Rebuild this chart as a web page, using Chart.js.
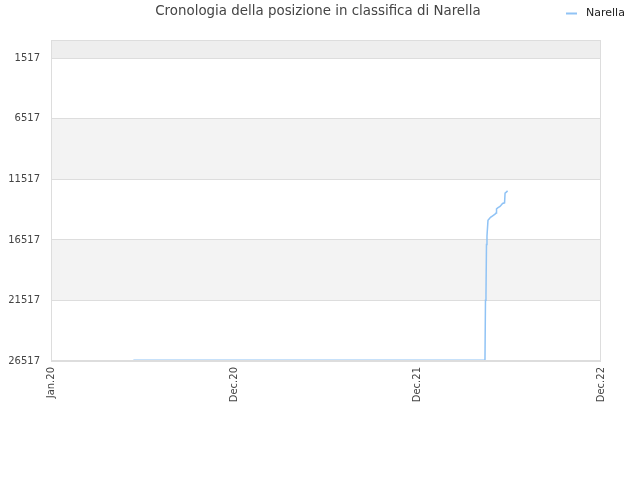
<!DOCTYPE html>
<html>
<head>
<meta charset="utf-8">
<script src="https://cdn.jsdelivr.net/npm/chart.js@4/dist/chart.umd.min.js"></script>
<style>
  html, body { margin: 0; padding: 0; background: #fff; }
  #wrap { width: 640px; height: 480px; }
</style>
</head>
<body>
<div id="wrap"><canvas id="myChart" width="640" height="480"></canvas></div>
<script>
var chartTitle = 'Cronologia della posizione in classifica di Narella';
var seriesName = 'Narella';

// days since Jan 2020 and classifica position
var days = [164, 864, 865, 866, 867, 868, 870, 875, 880, 884, 886, 887, 890, 894, 899, 903, 904, 907, 909];
var ranks = [26450, 26450, 21500, 21050, 16900, 16200, 14900, 14650, 14500, 14380, 14300, 13950, 13850, 13750, 13500, 13450, 12650, 12550, 12450];

var yTicks = [1517, 6517, 11517, 16517, 21517, 26517];
var xTickDays = [0, 365, 730, 1095];
var xTickLabels = ['Jan.20', 'Dec.20', 'Dec.21', 'Dec.22'];

var points = [];
for (var i = 0; i < days.length; i++) {
  points.push({ x: days[i], y: ranks[i] });
}

var decor = {
  id: 'decor',
  beforeDraw: function(chart) {
    var ctx = chart.ctx;
    var area = chart.chartArea;
    var y = chart.scales.y;
    ctx.save();
    // bands between the ticks
    ctx.fillStyle = '#eeeeee';
    ctx.fillRect(area.left, area.top, area.right - area.left, y.getPixelForValue(yTicks[0]) - area.top);
    for (var i = 0; i < yTicks.length - 1; i++) {
      if (i % 2 === 1) {
        var a = y.getPixelForValue(yTicks[i]);
        var b = y.getPixelForValue(yTicks[i + 1]);
        ctx.fillStyle = '#f3f3f3';
        ctx.fillRect(area.left, a, area.right - area.left, b - a);
      }
    }
    ctx.restore();
  },
  afterDraw: function(chart) {
    var ctx = chart.ctx;
    var area = chart.chartArea;
    ctx.save();
    ctx.strokeStyle = '#dddddd';
    ctx.lineWidth = 1;
    ctx.strokeRect(area.left + 0.5, area.top + 0.5, area.right - area.left - 1, area.bottom - area.top - 1);
    // title
    ctx.fillStyle = '#444444';
    ctx.font = '13.4px "DejaVu Sans"';
    ctx.textAlign = 'center';
    ctx.textBaseline = 'middle';
    ctx.fillText(chartTitle, 318, 12);
    // legend
    ctx.strokeStyle = '#90c3f5';
    ctx.lineWidth = 2;
    ctx.beginPath();
    ctx.moveTo(566, 13.5);
    ctx.lineTo(577, 13.5);
    ctx.stroke();
    ctx.fillStyle = '#222222';
    ctx.font = '11px "DejaVu Sans"';
    ctx.textAlign = 'left';
    ctx.fillText(seriesName, 586, 13);
    ctx.restore();
  }
};

var ctx = document.getElementById('myChart').getContext('2d');
var myChart = new Chart(ctx, {
  type: 'line',
  data: {
    datasets: [{
      label: seriesName,
      data: points,
      borderColor: '#90c3f5',
      borderWidth: 1.5,
      pointRadius: 0,
      tension: 0,
      fill: false
    }]
  },
  options: {
    responsive: false,
    animation: false,
    layout: { padding: { top: 40, right: 39, left: 0, bottom: 0 } },
    plugins: {
      legend: { display: false },
      title: { display: false },
      tooltip: { enabled: false }
    },
    scales: {
      x: {
        type: 'linear',
        min: 0,
        max: 1095,
        afterBuildTicks: function(scale) {
          scale.ticks = xTickDays.map(function(v) { return { value: v }; });
        },
        afterFit: function(scale) { scale.height = 119; },
        grid: { display: false, drawTicks: false },
        border: { display: false },
        ticks: {
          autoSkip: false,
          minRotation: 90,
          maxRotation: 90,
          padding: 6,
          color: '#444444',
          font: { family: 'DejaVu Sans', size: 10 },
          callback: function(value) {
            var idx = xTickDays.indexOf(value);
            return idx >= 0 ? xTickLabels[idx] : '';
          }
        }
      },
      y: {
        type: 'linear',
        reverse: true,
        min: 0,
        max: 26517,
        afterBuildTicks: function(scale) {
          scale.ticks = yTicks.map(function(v) { return { value: v }; });
        },
        afterFit: function(scale) { scale.width = 51; },
        grid: { color: '#dddddd', drawTicks: false },
        border: { display: false },
        ticks: {
          padding: 11,
          color: '#444444',
          font: { family: 'DejaVu Sans', size: 10 },
          callback: function(value) { return String(value); }
        }
      }
    }
  },
  plugins: [decor]
});
</script>
</body>
</html>
